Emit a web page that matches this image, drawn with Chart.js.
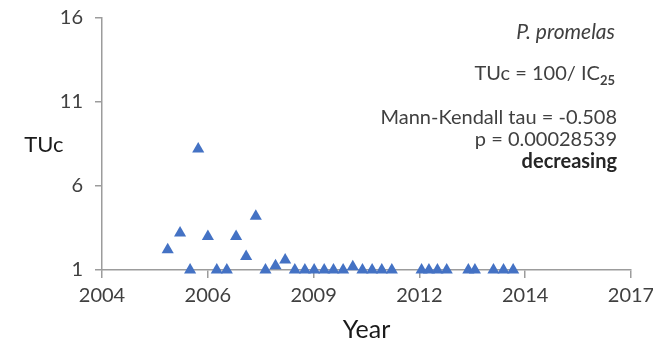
<!DOCTYPE html>
<html>
<head>
<meta charset="utf-8">
<script src="https://cdn.jsdelivr.net/npm/chart.js@4.4.1/dist/chart.umd.min.js"></script>
<style>
  html, body { margin: 0; padding: 0; background: #ffffff; }
  #wrap { width: 653px; height: 339px; position: relative; }
</style>
</head>
<body>
<div id="wrap"><canvas id="chart"></canvas></div>
<script>
// sampling dates as decimal years
const sampleYears = [
  2005.70, 2006.02, 2006.28, 2006.49, 2006.74, 2006.97, 2007.23, 2007.47,
  2007.73, 2007.98, 2008.23, 2008.49, 2008.74, 2008.99, 2009.25, 2009.49,
  2009.75, 2009.99, 2010.24, 2010.49, 2010.74, 2010.99, 2011.24, 2011.50,
  2012.27, 2012.46, 2012.68, 2012.92, 2013.48, 2013.65, 2014.13, 2014.39,
  2014.64
];
const tucValues = [
  2.2, 3.2, 1, 8.2, 3.0, 1, 1, 3.0,
  1.8, 4.2, 1, 1.25, 1.6, 1, 1, 1,
  1, 1, 1, 1.2, 1, 1, 1, 1,
  1, 1, 1, 1, 1, 1, 1, 1,
  1
];
// x axis: Excel-style date axis, major unit of 1000 days from 1 Jan 2004
const xStart = 2004;
const xTickDays = 1000;
const xTickLabels = ["2004", "2006", "2009", "2012", "2014", "2017"];
const yMin = 1, yMax = 16, yStep = 5;

const noteSpecies = "P. promelas";
const noteFormula = "TUc = 100/ IC";
const noteFormulaSub = "25";
const noteTau = "Mann-Kendall tau = -0.508";
const noteP = "p = 0.00028539";
const noteTrend = "decreasing";

const FONT = "Lato, 'Noto Sans', sans-serif";
const AXIS_GREY = "#9c9c9c";
const TEXT_GREY = "#404040";
const BLUE = "#4472c4";

const tickStep = xTickDays / 365.25;
const xEnd = xStart + (xTickLabels.length - 1) * tickStep;

const points = sampleYears.map((yr, i) => ({ x: yr, y: tucValues[i] }));

const notesPlugin = {
  id: "notes",
  afterDraw(chart) {
    const ctx = chart.ctx;
    const right = 617;
    ctx.save();
    ctx.textAlign = "right";
    ctx.textBaseline = "alphabetic";
    ctx.fillStyle = TEXT_GREY;

    ctx.font = "italic 21px " + FONT;
    ctx.fillText(noteSpecies, right - 2, 39);

    ctx.font = "bold 13px " + FONT;
    const subW = ctx.measureText(noteFormulaSub).width;
    ctx.fillText(noteFormulaSub, right - 2, 85);
    ctx.font = "20px " + FONT;
    ctx.fillText(noteFormula, right - 2 - subW, 80);

    ctx.fillText(noteTau, right, 124);
    ctx.fillText(noteP, right, 146);
    ctx.font = "bold 20px " + FONT;
    ctx.fillStyle = "#262626";
    ctx.fillText(noteTrend, right, 168);

    // horizontal y axis title
    ctx.font = "22px " + FONT;
    ctx.fillStyle = "#1a1a1a";
    ctx.textAlign = "center";
    ctx.textBaseline = "middle";
    ctx.fillText("TUc", 44, 145);
    ctx.restore();
  }
};

new Chart(document.getElementById("chart"), {
  type: "scatter",
  data: {
    datasets: [{
      label: "TUc",
      data: points,
      pointStyle: "triangle",
      pointRadius: 7,
      pointHoverRadius: 7,
      backgroundColor: BLUE,
      borderColor: BLUE,
      borderWidth: 0,
      clip: false,
    }]
  },
  options: {
    responsive: true,
    maintainAspectRatio: false,
    animation: false,
    layout: { padding: 0 },
    plugins: {
      legend: { display: false },
      tooltip: { enabled: false },
    },
    scales: {
      x: {
        type: "linear",
        min: xStart,
        max: xEnd,
        afterFit: (scale) => {
          scale.height = 69;
          scale.paddingRight = 22;
        },
        afterBuildTicks: (scale) => {
          scale.ticks = xTickLabels.map((_, i) => ({ value: xStart + i * tickStep }));
        },
        ticks: {
          callback: (val, i) => xTickLabels[i],
          font: { family: FONT, size: 20 },
          color: TEXT_GREY,
          padding: 6,
          maxRotation: 0,
          autoSkip: false,
        },
        grid: {
          drawOnChartArea: false,
          drawTicks: true,
          tickLength: 8,
          color: AXIS_GREY,
          lineWidth: 1.5,
        },
        border: { color: AXIS_GREY, width: 1.5 },
        title: {
          display: true,
          text: "Year",
          font: { family: FONT, size: 25, lineHeight: 0.75 },
          color: "#1a1a1a",
          padding: { top: 0, bottom: 0 },
        },
      },
      y: {
        min: yMin,
        max: yMax,
        afterFit: (scale) => {
          scale.width = 102;
          scale.paddingTop = 18;
        },
        ticks: {
          stepSize: yStep,
          font: { family: FONT, size: 20 },
          color: TEXT_GREY,
          padding: 12,
        },
        grid: {
          drawOnChartArea: false,
          drawTicks: true,
          tickLength: 7,
          color: AXIS_GREY,
          lineWidth: 1.5,
        },
        border: { color: AXIS_GREY, width: 1.5 },
      },
    },
  },
  plugins: [notesPlugin],
});
</script>
</body>
</html>
